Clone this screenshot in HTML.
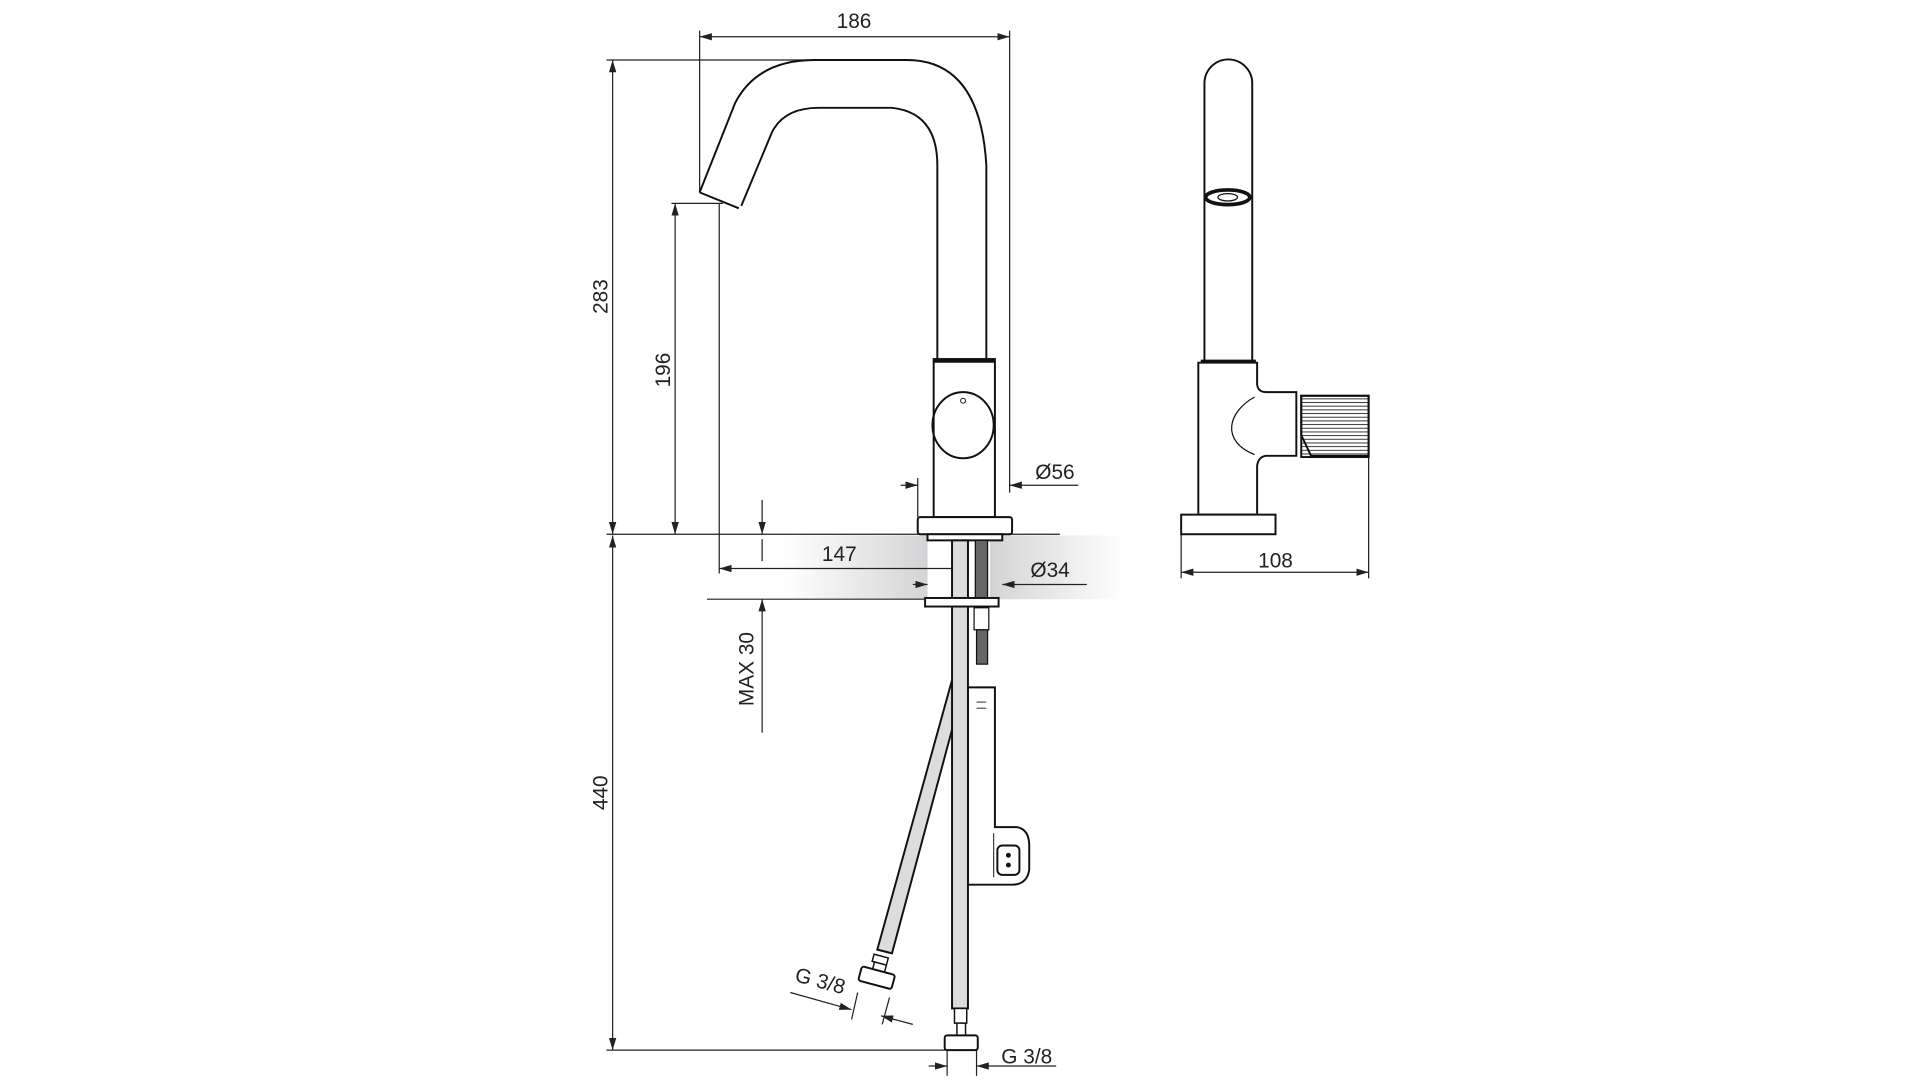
<!DOCTYPE html>
<html><head><meta charset="utf-8"><style>
html,body{margin:0;padding:0;background:#fff;width:1920px;height:1080px;overflow:hidden}
svg{display:block}
text{font-family:"Liberation Sans",sans-serif;fill:#222}
</style></head><body>
<svg width="1920" height="1080" viewBox="0 0 1567 881.4" preserveAspectRatio="none" xmlns="http://www.w3.org/2000/svg">
<defs>
<linearGradient id="gl" x1="0" x2="1" y1="0" y2="0"><stop offset="0" stop-color="#fff"/><stop offset="1" stop-color="#d4d4d6"/></linearGradient>
<linearGradient id="gr" x1="0" x2="1" y1="0" y2="0"><stop offset="0" stop-color="#d4d4d6"/><stop offset="1" stop-color="#fff"/></linearGradient>
<marker id="a" viewBox="0 0 10 6" refX="10" refY="3" markerWidth="10" markerHeight="6" orient="auto-start-reverse" markerUnits="userSpaceOnUse"><path d="M0,0 L10,3 L0,6z" fill="#222"/></marker>
<pattern id="hatchH" width="4" height="3" patternUnits="userSpaceOnUse"><rect width="4" height="3" fill="#fff"/><line x1="0" y1="1.5" x2="4" y2="1.5" stroke="#333" stroke-width="0.8"/></pattern>
</defs>
<rect x="640" y="437" width="117" height="52" fill="url(#gl)"/>
<rect x="808" y="437" width="110" height="52" fill="url(#gr)"/>
<g stroke="#222" fill="none" stroke-width="1">
<line x1="571" y1="30" x2="824" y2="30" marker-start="url(#a)" marker-end="url(#a)"/>
<line x1="571" y1="25" x2="571" y2="157"/>
<line x1="824" y1="25" x2="824" y2="402"/>
<line x1="500" y1="49" x2="500" y2="436" marker-start="url(#a)" marker-end="url(#a)"/>
<line x1="495" y1="49" x2="700" y2="49"/>
<line x1="495" y1="436" x2="865" y2="436"/>
<line x1="500" y1="437" x2="500" y2="857" marker-start="url(#a)" marker-end="url(#a)"/>
<line x1="495" y1="857" x2="780" y2="857"/>
<line x1="551" y1="166" x2="551" y2="436" marker-start="url(#a)" marker-end="url(#a)"/>
<line x1="548" y1="166" x2="590" y2="166"/>
<line x1="587" y1="166" x2="587" y2="468"/>
<line x1="587" y1="464" x2="790" y2="464" marker-start="url(#a)" marker-end="url(#a)"/>
<line x1="790" y1="441" x2="790" y2="470"/>
<line x1="735" y1="396" x2="749" y2="396" marker-end="url(#a)"/>
<line x1="880" y1="396" x2="824" y2="396" marker-end="url(#a)"/>
<line x1="749" y1="390" x2="749" y2="422"/>
<line x1="745" y1="477" x2="757" y2="477" marker-end="url(#a)"/>
<line x1="887" y1="477" x2="818" y2="477" marker-end="url(#a)"/>
<line x1="622" y1="408" x2="622" y2="436" marker-end="url(#a)"/>
<line x1="622" y1="598" x2="622" y2="489" marker-end="url(#a)"/>
<line x1="577" y1="489" x2="815" y2="489"/>
<line x1="622" y1="440" x2="622" y2="458"/>
<line x1="964" y1="467" x2="1117" y2="467" marker-start="url(#a)" marker-end="url(#a)"/>
<line x1="964" y1="436" x2="964" y2="472"/>
<line x1="1117" y1="372" x2="1117" y2="472"/>
<line x1="758" y1="870" x2="773" y2="870" marker-end="url(#a)"/>
<line x1="862" y1="870" x2="797" y2="870" marker-end="url(#a)"/>
<line x1="773" y1="856" x2="773" y2="878"/>
<line x1="797" y1="856" x2="797" y2="878"/>
<line x1="645" y1="810" x2="695" y2="824" marker-end="url(#a)"/>
<line x1="745" y1="836" x2="719" y2="829" marker-end="url(#a)"/>
<line x1="700" y1="810" x2="695" y2="832"/>
<line x1="726" y1="814" x2="720" y2="836"/>
</g>
<g stroke="#111" fill="none" stroke-width="1.6">
<path d="M571,157 L600,84 Q618,49 665,49 L740,49 Q800,49 805,135 L805,293"/>
<path d="M605,168 L630,108 Q640,88 668,88 L728,88 Q765,92 765,135 L765,293"/>
<path d="M571,157 L603,170"/>
<rect x="762" y="293" width="50" height="129" fill="#fff"/>
<line x1="762" y1="294.5" x2="812" y2="294.5" stroke-width="3"/>
<ellipse cx="786" cy="347" rx="25" ry="27"/>
<circle cx="786" cy="327" r="2" stroke-width="0.8"/>
<rect x="749" y="422" width="77" height="14" rx="2" fill="#fff"/>
<rect x="757" y="436" width="61" height="5" fill="#fff"/>
<path d="M777,555 L779,588 L728,778 L716,775 Z" fill="#dcdcdc"/>
<g transform="translate(716,796) rotate(15)">
<rect x="-7" y="-16" width="12" height="6" fill="#fff" stroke-width="1.2"/>
<rect x="-5" y="-10" width="10" height="6" fill="#fff" stroke-width="1.2"/>
<rect x="-14" y="-4" width="28" height="12" rx="2" fill="#fff"/>
</g>
<path d="M790,561 L812,561 L812,675 L830,675 Q840,677 840,690 L840,710 Q838,722 826,722 L790,722 Z" fill="#fff"/>
<rect x="814" y="690" width="18" height="24" rx="4"/>
<line x1="811" y1="680" x2="811" y2="716" stroke-width="0.8"/>
<circle cx="823" cy="698" r="2" fill="#111" stroke="none"/>
<circle cx="823" cy="706" r="2" fill="#111" stroke="none"/>
<line x1="797" y1="573" x2="805" y2="573" stroke-width="1" stroke="#555"/>
<line x1="797" y1="578" x2="805" y2="578" stroke-width="1" stroke="#555"/>
<rect x="777" y="441" width="13" height="382" fill="#dcdcdc"/>
<rect x="796" y="441" width="10" height="48" fill="#666" stroke-width="1"/>
<rect x="755" y="488" width="60" height="7" fill="#fff"/>
<rect x="795" y="496" width="12" height="18" fill="#fff" stroke-width="1"/>
<rect x="797" y="514" width="9" height="28" fill="#666" stroke-width="1"/>
<rect x="779" y="823" width="10" height="12" fill="#fff" stroke-width="1.2"/>
<rect x="781" y="835" width="7" height="10" fill="#fff" stroke-width="1.2"/>
<rect x="771" y="845" width="27" height="12" rx="2" fill="#fff"/>
<path d="M983,296 L983,68 A19.5,19.5 0 0 1 1022,68 L1022,296"/>
<ellipse cx="1002" cy="161" rx="18" ry="6" stroke-width="3"/>
<ellipse cx="1002" cy="161" rx="8" ry="3" stroke-width="1"/>
<line x1="980" y1="295" x2="1025" y2="295" stroke-width="3"/>
<path d="M978,296 L1026,296 L1026,314 Q1027,320 1033,320 L1058,320 L1058,372 L1033,372 Q1027,373 1026,380 L1026,420 L978,420 Z" fill="#fff"/>
<path d="M1024,324 C1002,336 996,360 1024,371" stroke-width="1"/>
<rect x="1062" y="323" width="55" height="50" fill="url(#hatchH)"/>
<path d="M1062,323 L1117,323 L1117,372 L1070,372 L1062,355 Z" fill="none"/>
<rect x="964" y="420" width="77" height="16" fill="#fff"/>
</g>
<g font-size="17">
<text x="697" y="23" text-anchor="middle">186</text>
<text x="685" y="458" text-anchor="middle">147</text>
<text x="861" y="391" text-anchor="middle">Ø56</text>
<text x="857" y="471" text-anchor="middle">Ø34</text>
<text x="1041" y="463" text-anchor="middle">108</text>
<text x="838" y="868" text-anchor="middle">G 3/8</text>
<text transform="translate(668,806) rotate(15)" text-anchor="middle">G 3/8</text>
<text transform="translate(496,242) rotate(-90)" text-anchor="middle">283</text>
<text transform="translate(547,302) rotate(-90)" text-anchor="middle">196</text>
<text transform="translate(496,647) rotate(-90)" text-anchor="middle">440</text>
<text transform="translate(615,546) rotate(-90)" text-anchor="middle">MAX 30</text>
</g>
</svg>
</body></html>
